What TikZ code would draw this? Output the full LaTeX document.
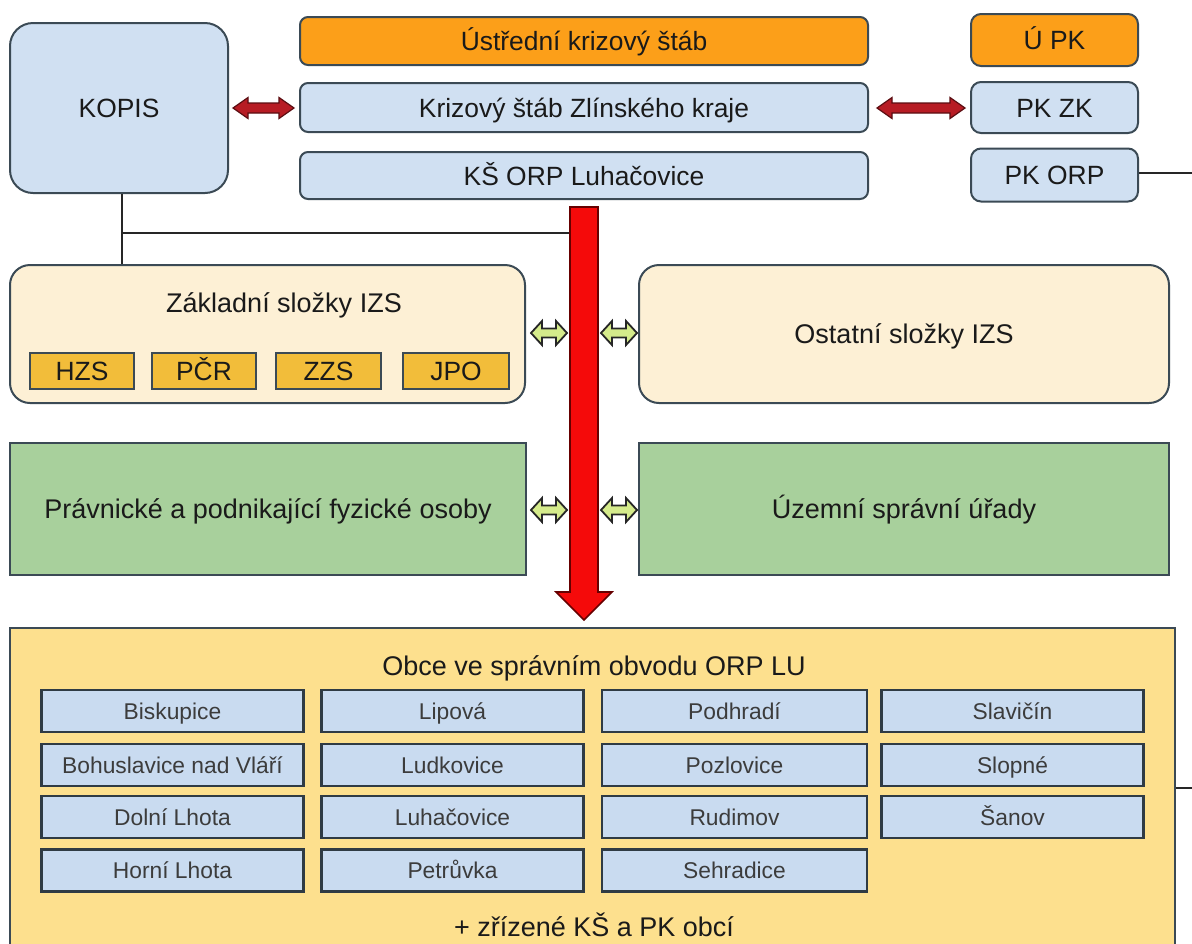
\documentclass[tikz,border=0pt]{standalone}
\usepackage{fontspec}
\setmainfont{Liberation Sans}
\definecolor{lblue}{HTML}{D0E0F2}
\definecolor{gblue}{HTML}{C9DBF0}
\definecolor{bordc}{HTML}{3B4A55}
\definecolor{orng}{HTML}{FC9F19}
\definecolor{cream}{HTML}{FDF0D5}
\definecolor{goldb}{HTML}{F2BD3A}
\definecolor{grn}{HTML}{A8D09C}
\definecolor{biggold}{HTML}{FDE08E}
\definecolor{redarr}{HTML}{F50A0A}
\definecolor{darkred}{HTML}{B71C24}
\definecolor{lgreen}{HTML}{D5EB8B}
\definecolor{txt}{HTML}{1A1A1A}
\definecolor{gtxt}{HTML}{3C3C3C}
\newcommand\dblarr[7]{%
  \draw[#1] (#2,#4) -- ({#2+#7},{#4-#6}) -- ({#2+#7},{#4-#5}) -- ({#3-#7},{#4-#5})
    -- ({#3-#7},{#4-#6}) -- (#3,#4) -- ({#3-#7},{#4+#6}) -- ({#3-#7},{#4+#5})
    -- ({#2+#7},{#4+#5}) -- ({#2+#7},{#4+#6}) -- cycle;}
\begin{document}
\begin{tikzpicture}[x=0.5pt,y=-0.5pt,
  sz/.style 2 args={minimum width=#1*0.5pt, minimum height=#2*0.5pt},
  bx/.style={draw=bordc, line width=1pt, rounded corners=4pt, fill=lblue, text=txt,
    inner sep=0pt, font=\fontsize{13.2}{15}\selectfont, text height=9.5pt, text depth=0pt},
  smallbx/.style={draw=bordc, line width=1pt, fill=goldb, text=txt, inner sep=0pt,
    font=\fontsize{13.2}{15}\selectfont, text height=9.5pt, text depth=0pt},
  gridbx/.style={draw=bordc!80!black, line width=1.1pt, fill=gblue, text=gtxt, inner sep=0pt,
    minimum width=131pt, minimum height=21pt, font=\fontsize{11.4}{13}\selectfont,
    text height=8.2pt, text depth=0pt},
  ttl/.style={text=txt, inner sep=0pt, font=\fontsize{13.5}{15}\selectfont,
    text height=9.7pt, text depth=0pt},
  conn/.style={draw=black!85, line width=0.8pt},
  reddbl/.style={fill=darkred, draw=darkred!50!black, line width=0.6pt, line join=miter},
  grndbl/.style={fill=lgreen, draw=black!85, line width=0.9pt, line join=miter},
  bigred/.style={fill=redarr, draw=red!40!black, line width=0.8pt, line join=miter}]
\useasboundingbox (0,0) rectangle (1192,943);
\fill[white] (0,0) rectangle (1192,943);

% top row
\node[bx, sz={218}{170}, rounded corners=11.5pt] (kopis) at (119,108) {KOPIS};
\node[bx, fill=orng, sz={568}{48}] (ustr) at (584,41) {Ústřední krizový štáb};
\node[bx, sz={568}{49}] (kszk) at (584,107.5) {Krizový štáb Zlínského kraje};
\node[bx, sz={568}{47}] (ksorp) at (584,175.5) {KŠ ORP Luhačovice};
\node[bx, fill=orng, sz={167}{52}, rounded corners=5pt] (upk) at (1054.5,40) {Ú PK};
\node[bx, sz={167}{51}, rounded corners=5pt] (pkzk) at (1054.5,107.5) {PK ZK};
\node[bx, sz={167}{53}, rounded corners=5pt] (pkorp) at (1054.5,175) {PK ORP};

% IZS
\node[bx, fill=cream, sz={515}{138}, rounded corners=10pt] (zakl) at (267.5,334) {};
\node[ttl] (zaklt) at (284,303) {Základní složky IZS};
\node[smallbx, sz={104}{36}] (hzs) at (82,371) {HZS};
\node[smallbx, sz={104}{36}] (pcr) at (204,371) {PČR};
\node[smallbx, sz={105}{36}] (zzs) at (328.5,371) {ZZS};
\node[smallbx, sz={106}{36}] (jpo) at (456,371) {JPO};
\node[bx, fill=cream, sz={530}{138}, rounded corners=10pt, font=\fontsize{13.5}{15}\selectfont] (ost) at (904,334) {Ostatní složky IZS};

% green row
\node[bx, fill=grn, sz={516}{132}, rounded corners=0pt, font=\fontsize{13.5}{15}\selectfont] (prav) at (268,509) {Právnické a podnikající fyzické osoby};
\node[bx, fill=grn, sz={530}{132}, rounded corners=0pt, font=\fontsize{13.5}{15}\selectfont] (uzem) at (904,509) {Územní správní úřady};

% big box
\node[bx, fill=biggold, sz={1165}{340}, rounded corners=0pt] (obce) at (592.5,798) {};
\node[ttl] (obcet) at (594,666) {Obce ve správním obvodu ORP LU};
\node[ttl] (obcef) at (594,927) {+ zřízené KŠ a PK obcí};

\node[gridbx] (g11) at (172.5,711) {Biskupice};
\node[gridbx] (g21) at (172.5,765) {Bohuslavice nad Vláří};
\node[gridbx] (g31) at (172.5,817) {Dolní Lhota};
\node[gridbx] (g41) at (172.5,870.5) {Horní Lhota};
\node[gridbx] (g12) at (452.5,711) {Lipová};
\node[gridbx] (g22) at (452.5,765) {Ludkovice};
\node[gridbx] (g32) at (452.5,817) {Luhačovice};
\node[gridbx] (g42) at (452.5,870.5) {Petrůvka};
\node[gridbx, minimum width=132.5pt] (g13) at (734.5,711) {Podhradí};
\node[gridbx, minimum width=132.5pt] (g23) at (734.5,765) {Pozlovice};
\node[gridbx, minimum width=132.5pt] (g33) at (734.5,817) {Rudimov};
\node[gridbx, minimum width=132.5pt] (g43) at (734.5,870.5) {Sehradice};
\node[gridbx] (g14) at (1012.5,711) {Slavičín};
\node[gridbx] (g24) at (1012.5,765) {Slopné};
\node[gridbx] (g34) at (1012.5,817) {Šanov};

% connectors
\coordinate (jn) at (122,233);
\coordinate (shl) at (570,233);
\draw[conn] (kopis.south -| jn) -- (zakl.north -| jn);
\draw[conn] (jn) -- (shl);
\coordinate (edgeA) at (1200,173);
\coordinate (edgeB) at (1200,788);
\draw[conn] (pkorp.east |- edgeA) -- (edgeA);
\draw[conn] (obce.east |- edgeB) -- (edgeB);

% big red arrow from KŠ ORP down to obce
\draw[bigred] (570,207) -- (598,207) -- (598,592) -- (612,592) -- (584,620)
  -- (556,592) -- (570,592) -- cycle;

% red double arrows
\dblarr{reddbl}{233}{294}{108}{5}{10.5}{15}
\dblarr{reddbl}{877}{965}{108}{5}{10.5}{15}

% green double arrows
\dblarr{grndbl}{531}{567}{333}{4.5}{12}{11}
\dblarr{grndbl}{601}{637}{333}{4.5}{12}{11}
\dblarr{grndbl}{531}{567}{510}{4.5}{12}{11}
\dblarr{grndbl}{601}{637}{510}{4.5}{12}{11}
\end{tikzpicture}
\end{document}
